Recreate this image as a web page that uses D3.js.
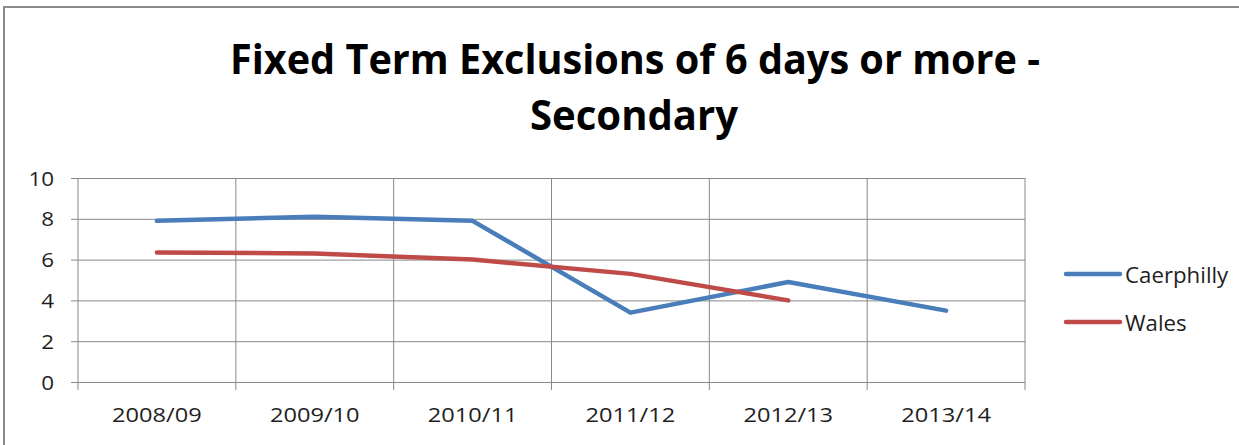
<!DOCTYPE html>
<html>
<head>
<script src="https://d3js.org/d3.v7.min.js"></script>
<style>
  body { margin: 0; background: white; }
  text { font-family: "Open Sans", "Liberation Sans", sans-serif; fill: #1e1e1e; }
</style>
</head>
<body>
<div id="chart"></div>
<script>
// data
var years = ["2008/09", "2009/10", "2010/11", "2011/12", "2012/13", "2013/14"];
var caerphilly = [7.9, 8.1, 7.9, 3.4, 4.9, 3.5];
var wales = [6.35, 6.3, 6.0, 5.3, 4.0, null];
var yTicks = [0, 2, 4, 6, 8, 10];
var seriesNames = ["Caerphilly", "Wales"];
var colors = ["#4a7ebb", "#be4b48"];

var W = 1239, H = 445;
var margin = { top: 178, right: 214, bottom: 63, left: 78 };
var width = W - margin.left - margin.right;
var height = H - margin.top - margin.bottom;

// widen text a bit (reference is horizontally stretched)
function stretch(sel, f) {
    sel.each(function () {
        var len = this.getComputedTextLength();
        d3.select(this).attr("textLength", len * f).attr("lengthAdjust", "spacingAndGlyphs");
    });
}

var svg = d3.select("#chart").append("svg")
    .attr("width", W).attr("height", H);

// outer border
svg.append("rect")
    .attr("x", 4).attr("y", 7)
    .attr("width", W + 10).attr("height", H + 10)
    .attr("fill", "none").attr("stroke", "#8c8c8c").attr("stroke-width", 2);

// title
svg.append("text").attr("x", 635).attr("y", 74)
    .attr("text-anchor", "middle").style("font-size", "42px").style("font-weight", "bold")
    .attr("textLength", 810).attr("lengthAdjust", "spacingAndGlyphs")
    .style("fill", "#000")
    .text("Fixed Term Exclusions of 6 days or more -");
svg.append("text").attr("x", 634).attr("y", 130)
    .attr("text-anchor", "middle").style("font-size", "42px").style("font-weight", "bold")
    .attr("textLength", 208).attr("lengthAdjust", "spacingAndGlyphs")
    .style("fill", "#000")
    .text("Secondary");

var g = svg.append("g").attr("transform", "translate(" + margin.left + "," + margin.top + ")");

var xb = d3.scaleBand().domain(years).range([0, width]);
var ys = d3.scaleLinear().domain([0, 10]).range([height, 0]);

// horizontal gridlines + y axis ticks
var yAxis = d3.axisLeft(ys).tickValues(yTicks).tickSize(-width).tickPadding(24);
g.append("g").call(yAxis)
    .call(s => s.select(".domain").remove())
    .call(s => s.selectAll(".tick line").attr("x1", -7).attr("stroke", "#888"))
    .call(s => s.selectAll(".tick text").style("font-size", "20px").attr("dy", "0.35em"))
    .call(s => stretch(s.selectAll(".tick text"), 1.12));

// vertical gridlines at category boundaries
var bounds = years.map(d => xb(d)).concat([width]);
g.selectAll(".vgrid").data(bounds).enter().append("line")
    .attr("x1", d => d).attr("x2", d => d)
    .attr("y1", 0).attr("y2", height + 8)
    .attr("stroke", "#888").attr("stroke-width", 1);

// x labels
g.selectAll(".xlab").data(years).enter().append("text")
    .attr("x", d => xb(d) + xb.bandwidth() / 2)
    .attr("y", height + 40)
    .attr("text-anchor", "middle").style("font-size", "20px")
    .text(d => d)
    .call(s => stretch(s, 1.18));

// lines
var line = d3.line()
    .defined(d => d.v != null)
    .x(d => xb(d.year) + xb.bandwidth() / 2)
    .y(d => ys(d.v));

[caerphilly, wales].forEach(function (vals, i) {
    var pts = years.map((y, j) => ({ year: y, v: vals[j] }));
    g.append("path").datum(pts)
        .attr("d", line)
        .attr("fill", "none").attr("stroke", colors[i])
        .attr("stroke-width", 4.5).attr("stroke-linejoin", "round").attr("stroke-linecap", "round");
});

// legend
seriesNames.forEach(function (name, i) {
    var ly = 274 + i * 48;
    svg.append("line").attr("x1", 1066).attr("x2", 1120).attr("y1", ly).attr("y2", ly)
        .attr("stroke", colors[i]).attr("stroke-width", 4.5).attr("stroke-linecap", "round");
    svg.append("text").attr("x", 1125).attr("y", ly + 9).style("font-size", "21px").text(name)
        .call(s => stretch(s, 1.06));
});
</script>
</body>
</html>
